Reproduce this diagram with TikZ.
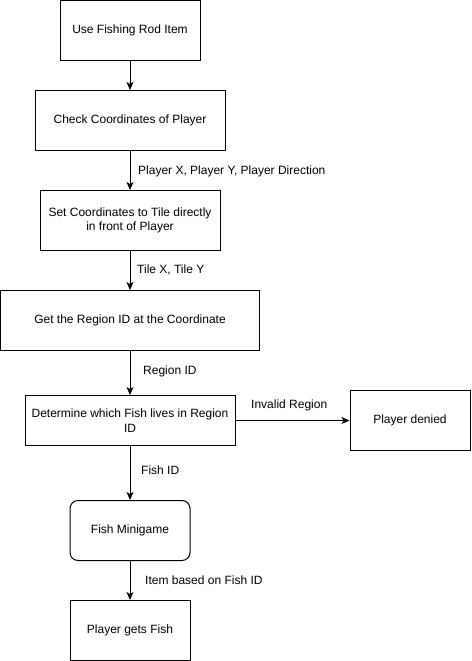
\documentclass[tikz,border=0pt]{standalone}
\usepackage{fontspec}
\setmainfont{Liberation Sans}
\usetikzlibrary{positioning,arrows.meta}

\begin{document}
\begin{tikzpicture}[
		x=1pt, y=-1pt,
		box/.style={draw, line width=1pt, inner sep=0pt, align=center, font=\fontsize{12}{14.4}\selectfont},
		lbl/.style={anchor=west, inner sep=0pt, font=\fontsize{12}{14.4}\selectfont},
		arr/.style={-{Stealth[length=8pt,width=7pt,inset=2pt]}, line width=1pt}
		]
		\useasboundingbox (0,0) rectangle (471,661);
		
		% ===== main column =====
		\node[box, minimum width=140pt, minimum height=60pt] (use) at (130,30.5) {Use Fishing Rod Item};
		\node[box, minimum width=190pt, minimum height=60pt] (check) at (130,120.5) {Check Coordinates of Player};
		\node[box, minimum width=180pt, minimum height=60pt] (settile) at (130,220.5) {Set Coordinates to Tile directly\\in front of Player};
		\node[box, minimum width=259pt, minimum height=60pt] (region) at (130,320.5) {Get the Region ID at the Coordinate};
		\node[box, minimum width=210pt, minimum height=50pt] (determine) at (130,420.5) {Determine which Fish lives in Region\\ID};
		\node[box, rounded corners=8pt, minimum width=120pt, minimum height=60pt] (minigame) at (130,530.5) {Fish Minigame};
		\node[box, minimum width=120pt, minimum height=60pt] (getfish) at (130,630.5) {Player gets Fish};
		
		% ===== side box =====
		\node[box, minimum width=120pt, minimum height=60pt] (denied) at (410,420.5) {Player denied};
		
		% ===== connectors =====
		\draw[arr] (use) -- (check);
		\draw[arr] (check) -- (settile);
		\draw[arr] (settile) -- (region);
		\draw[arr] (region) -- (determine);
		\draw[arr] (determine) -- (denied);
		\draw[arr] (determine) -- (minigame);
		\draw[arr] (minigame) -- (getfish);
		
		% ===== labels =====
		\node[lbl] (lplayer) at (138,171) {Player X, Player Y, Player Direction};
		\node[lbl] (ltile) at (137,270) {Tile X, Tile Y};
		\node[lbl] (lregion) at (143,371) {Region ID};
		\node[lbl] (linvalid) at (251,405) {Invalid Region};
		\node[lbl] (lfish) at (141,470) {Fish ID};
		\node[lbl] (litem) at (145,580) {Item based on Fish ID};
		
	\end{tikzpicture}
\end{document}
